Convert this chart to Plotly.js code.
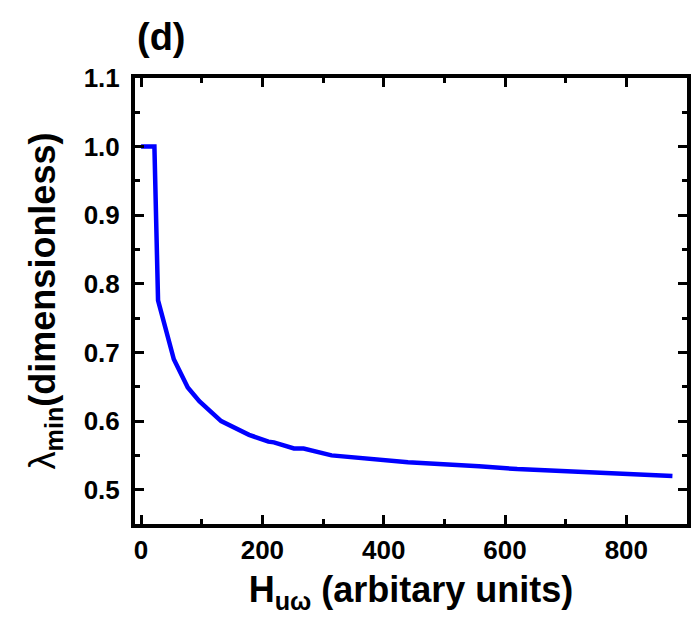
<!DOCTYPE html>
<html>
<head>
<meta charset="utf-8">
<script src="https://cdn.plot.ly/plotly-3.0.1.min.js"></script>
<style>html,body{margin:0;padding:0;background:#fff;}#chart{width:692px;height:620px;}</style>
</head>
<body>
<div id="chart"></div>
<script>
const hValues = [0, 22, 28, 54, 77, 96, 132, 178, 210, 219, 252, 268, 314, 393, 440, 557, 620, 876];
const lambdaMin = [1.0, 1.0, 0.776, 0.690, 0.649, 0.629, 0.600, 0.580, 0.570, 0.569, 0.560, 0.560, 0.550, 0.544, 0.540, 0.534, 0.530, 0.520];
const xTickVals = [0, 200, 400, 600, 800];
const yTickVals = [0.5, 0.6, 0.7, 0.8, 0.9, 1.0, 1.1];
const yTickText = ['0.5', '0.6', '0.7', '0.8', '0.9', '1.0', '1.1'];

const font = {family: 'Liberation Sans, Arial, sans-serif', color: '#000'};

const trace = {
  x: hValues, y: lambdaMin, type: 'scatter', mode: 'lines',
  line: {color: '#0000ff', width: 4.5}, hoverinfo: 'skip'
};

const layout = {
  width: 692, height: 620,
  margin: {l: 135, r: 5, t: 78, b: 96},
  paper_bgcolor: '#fff', plot_bgcolor: '#fff',
  showlegend: false,
  font: font,
  xaxis: {
    range: [-10, 900],
    tickvals: xTickVals,
    ticks: 'inside', ticklen: 9, tickwidth: 3, tickcolor: '#000',
    minor: {ticks: 'inside', ticklen: 5, tickwidth: 3, dtick: 100, tick0: 0, tickcolor: '#000'},
    showline: true, linewidth: 4, linecolor: '#000', mirror: 'allticks',
    showgrid: false, zeroline: false,
    tickfont: {family: font.family, size: 26, weight: 'bold', color: '#000'},
    title: {text: 'H<sub>uω</sub> (arbitary units)', standoff: 14,
            font: {family: font.family, size: 36, weight: 'bold', color: '#000'}}
  },
  yaxis: {
    range: [0.45, 1.1],
    tickvals: yTickVals, ticktext: yTickText,
    ticks: 'inside', ticklen: 9, tickwidth: 3, tickcolor: '#000',
    minor: {ticks: 'inside', ticklen: 5, tickwidth: 3, dtick: 0.05, tick0: 0.45, tickcolor: '#000'},
    showline: true, linewidth: 4, linecolor: '#000', mirror: 'allticks',
    showgrid: false, zeroline: false,
    ticklabelstandoff: 6,
    tickfont: {family: font.family, size: 26, weight: 'bold', color: '#000'},
    title: {text: '<span style="font-weight:normal">λ</span><sub>min</sub>(dimensionless)', standoff: 18,
            font: {family: font.family, size: 36, weight: 'bold', color: '#000'}}
  },
  annotations: [{
    text: '(d)', xref: 'paper', yref: 'paper', x: 0.0, y: 1.0,
    xanchor: 'left', yanchor: 'bottom', yshift: 18, showarrow: false,
    font: {family: font.family, size: 38, weight: 'bold', color: '#000'}
  }]
};

Plotly.newPlot('chart', [trace], layout, {displayModeBar: false, staticPlot: true});
</script>
</body>
</html>
